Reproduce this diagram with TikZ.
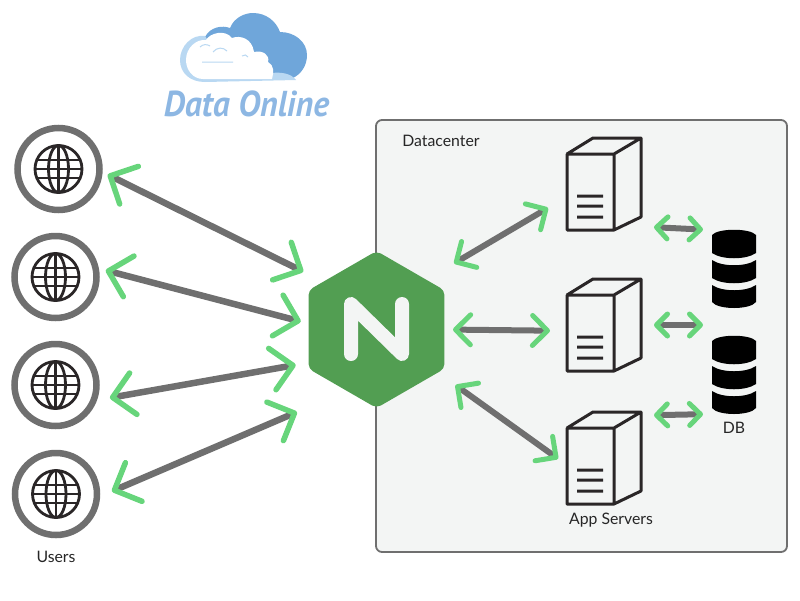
\documentclass[tikz,border=0pt]{standalone}
\usepackage{fontspec}
\setmainfont{Lato}
\newfontfamily\logofont{PT Sans}
\usetikzlibrary{arrows.meta,shapes.geometric}

\definecolor{linkgrey}{HTML}{6F6F6F}
\definecolor{tipgreen}{HTML}{67D57B}
\definecolor{hexgreen}{HTML}{529E52}
\definecolor{panelgrey}{HTML}{F3F5F4}
\definecolor{inkdark}{HTML}{2A2627}
\definecolor{clouddark}{HTML}{6FA6DA}
\definecolor{cloudlight}{HTML}{B9D8F2}
\definecolor{logoblue}{HTML}{8DB7E3}

\tikzset{
    usernode/.style={circle,draw=linkgrey,line width=6.5pt,minimum size=82pt,inner sep=0pt,outer sep=3.25pt},
    servernode/.style={rectangle,minimum width=74pt,minimum height=92pt,inner sep=0pt,outer sep=0pt},
    dbnode/.style={rectangle,minimum width=44pt,minimum height=78pt,inner sep=0pt,outer sep=0pt},
    label/.style={text=black!85,font=\fontsize{15.8}{18}\selectfont,inner sep=0pt},
    wanlink/.style={draw=linkgrey,line width=6.5pt,
        {Straight Barb[color=tipgreen,length=21pt,width=42pt,line width=5.5pt,round]}-{Straight Barb[color=tipgreen,length=21pt,width=42pt,line width=5.5pt,round]}},
    lanlink/.style={draw=linkgrey,line width=6pt,
        {Straight Barb[color=tipgreen,length=15pt,width=30pt,line width=5pt,round]}-{Straight Barb[color=tipgreen,length=15pt,width=30pt,line width=5pt,round]}},
    dblink/.style={draw=linkgrey,line width=6pt,
        {Straight Barb[color=tipgreen,length=11pt,width=22pt,line width=5pt,round]}-{Straight Barb[color=tipgreen,length=11pt,width=22pt,line width=5pt,round]}},
    pics/globe/.style={code={
        \draw[inkdark,line width=2.8pt] (0,0) circle [radius=23.5pt];
        \draw[inkdark,line width=2.8pt] (0,0) ellipse [x radius=10pt,y radius=23.5pt];
        \draw[inkdark,line width=2.8pt] (0,-23.5) -- (0,23.5);
        \draw[inkdark,line width=2.8pt] (-21.5,-9) -- (21.5,-9) (-23.5,0) -- (23.5,0) (-21.5,9) -- (21.5,9);
    }},
    pics/serverbox/.style={code={
        \draw[inkdark,line width=3pt,line join=round]
            (-37,-30) -- (-37,46) -- (10,46) -- (10,-30) -- cycle
            (-37,-30) -- (-11,-46) -- (37,-46) -- (10,-30)
            (37,-46) -- (37,33) -- (10,46)
            (-27,12) -- (-1,12)
            (-27,22) -- (-1,22)
            (-27,33) -- (-1,33);
    }},
    pics/dbstack/.style={code={
        \fill[black] (-22,-34) .. controls (-16,-41) and (16,-41) .. (22,-34)
            -- (22,-16) .. controls (12,-9) and (-12,-9) .. (-22,-16) -- cycle;
        \fill[black] (-22,-9) .. controls (-12,-2) and (12,-2) .. (22,-9)
            -- (22,9) .. controls (12,16) and (-12,16) .. (-22,9) -- cycle;
        \fill[black] (-22,16) .. controls (-12,23) and (12,23) .. (22,16)
            -- (22,33) .. controls (16,41) and (-16,41) .. (-22,33) -- cycle;
    }},
}

\begin{document}
\begin{tikzpicture}[x=1pt,y=-1pt]
    \useasboundingbox (0,0) rectangle (800,600);

    % cloud logo
    \fill[clouddark] (205,37) .. controls (210,27) and (222,25) .. (230,28)
        .. controls (234,18) and (244,13) .. (253,13)
        .. controls (266,13) and (276,21) .. (280,32)
        .. controls (295,32) and (307,42) .. (307,55)
        .. controls (307,66) and (301,74) .. (293,78)
        -- (240,78) -- cycle;
    \fill[cloudlight] (205,36) .. controls (192,34) and (180,46) .. (180,60)
        .. controls (180,73) and (190,82) .. (205,82)
        -- (296,80) .. controls (291,73) and (280,72) .. (272,73) -- (220,60) -- cycle;
    \fill[white] (186,60) .. controls (186,48) and (196,39) .. (206,40)
        .. controls (210,33) and (225,29) .. (232,38)
        .. controls (240,35) and (252,38) .. (254,52)
        .. controls (263,50) and (270,55) .. (268,62)
        .. controls (274,65) and (274,72) .. (272,79)
        -- (203,79) .. controls (193,79) and (186,70) .. (186,60) -- cycle;
    \draw[cloudlight,line width=1pt]
        (200,47) .. controls (203,44) and (207,44) .. (210,46)
        (213,52) .. controls (217,47) and (223,47) .. (227,51)
        (242,56) .. controls (244,54) and (247,55) .. (248,57)
        (202,62) -- (233,62);
    \node[inner sep=0pt,text=logoblue,xscale=.94] (logotext) at (246.5,104)
        {\logofont\fontsize{36}{38}\selectfont\bfseries\itshape Data Online};

    % datacenter panel
    \draw[draw=linkgrey,fill=panelgrey,line width=1.8pt,rounded corners=6pt] (376,120) rectangle (787,552);
    \node[label] (lbldatacenter) at (441,141) {Datacenter};

    % users
    \foreach \name/\x/\y in {user1/58.5/169,user2/55.5/277,user3/55.5/385,user4/56/494} {
        \node[usernode] (\name) at (\x,\y) {};
        \pic at (\name) {globe};
    }
    \node[label] (lblusers) at (56,556.5) {Users};

    % load balancer
    \node[regular polygon,regular polygon sides=6,shape border rotate=30,minimum size=157pt,inner sep=0pt,outer sep=0pt,
        fill=hexgreen,rounded corners=5pt] (nginx) at (376.5,329.5) {};
    \draw[panelgrey,line width=14pt,line cap=round,line join=round]
        (351,354) -- (351,304) -- (402,354) -- (402,304);

    % servers
    \foreach \name/\y in {server1/184,server2/325,server3/458} {
        \node[servernode] (\name) at (604,\y) {};
        \pic at (\name) {serverbox};
    }
    \node[label] (lblservers) at (611,520) {App Servers};

    % databases
    \node[dbnode] (db1) at (734,269) {};
    \pic at (db1) {dbstack};
    \node[dbnode] (db2) at (734,375) {};
    \pic at (db2) {dbstack};
    \coordinate (dbgap) at (712,325);
    \node[label] (lbldb) at (734,427.5) {DB};

    % links
    \draw[wanlink,shorten <=5.7pt,shorten >=22.5pt] (user1.-4.5) -- (nginx.138.9);
    \draw[wanlink,shorten <=7pt,shorten >=8pt] (user2.11.4) -- (nginx.175.3);
    \draw[wanlink,shorten <=13pt,shorten >=13pt] (user3.-20) -- (nginx.206.6);
    \draw[wanlink,shorten <=12.7pt,shorten >=54pt] (user4.-3.9) -- (nginx.244.7);

    \draw[lanlink,shorten <=32.3pt,shorten >=22pt] (nginx.45.3) -- (server1.199.2);
    \draw[lanlink,shorten <=8.5pt,shorten >=17pt] (nginx.0) -- (server2.189.5);
    \draw[lanlink,shorten <=21.6pt,shorten >=11pt] (nginx.-35.1) -- (server3.191.3);

    \draw[dblink,shorten <=13pt,shorten >=9pt] (server1.-49.9) -- (db1.north west);
    \draw[dblink,shorten <=13pt,shorten >=9pt] (server2.east) -- (dbgap);
    \draw[dblink,shorten <=13pt,shorten >=9pt] (server3.49.3) -- (db2.south west);
\end{tikzpicture}
\end{document}
